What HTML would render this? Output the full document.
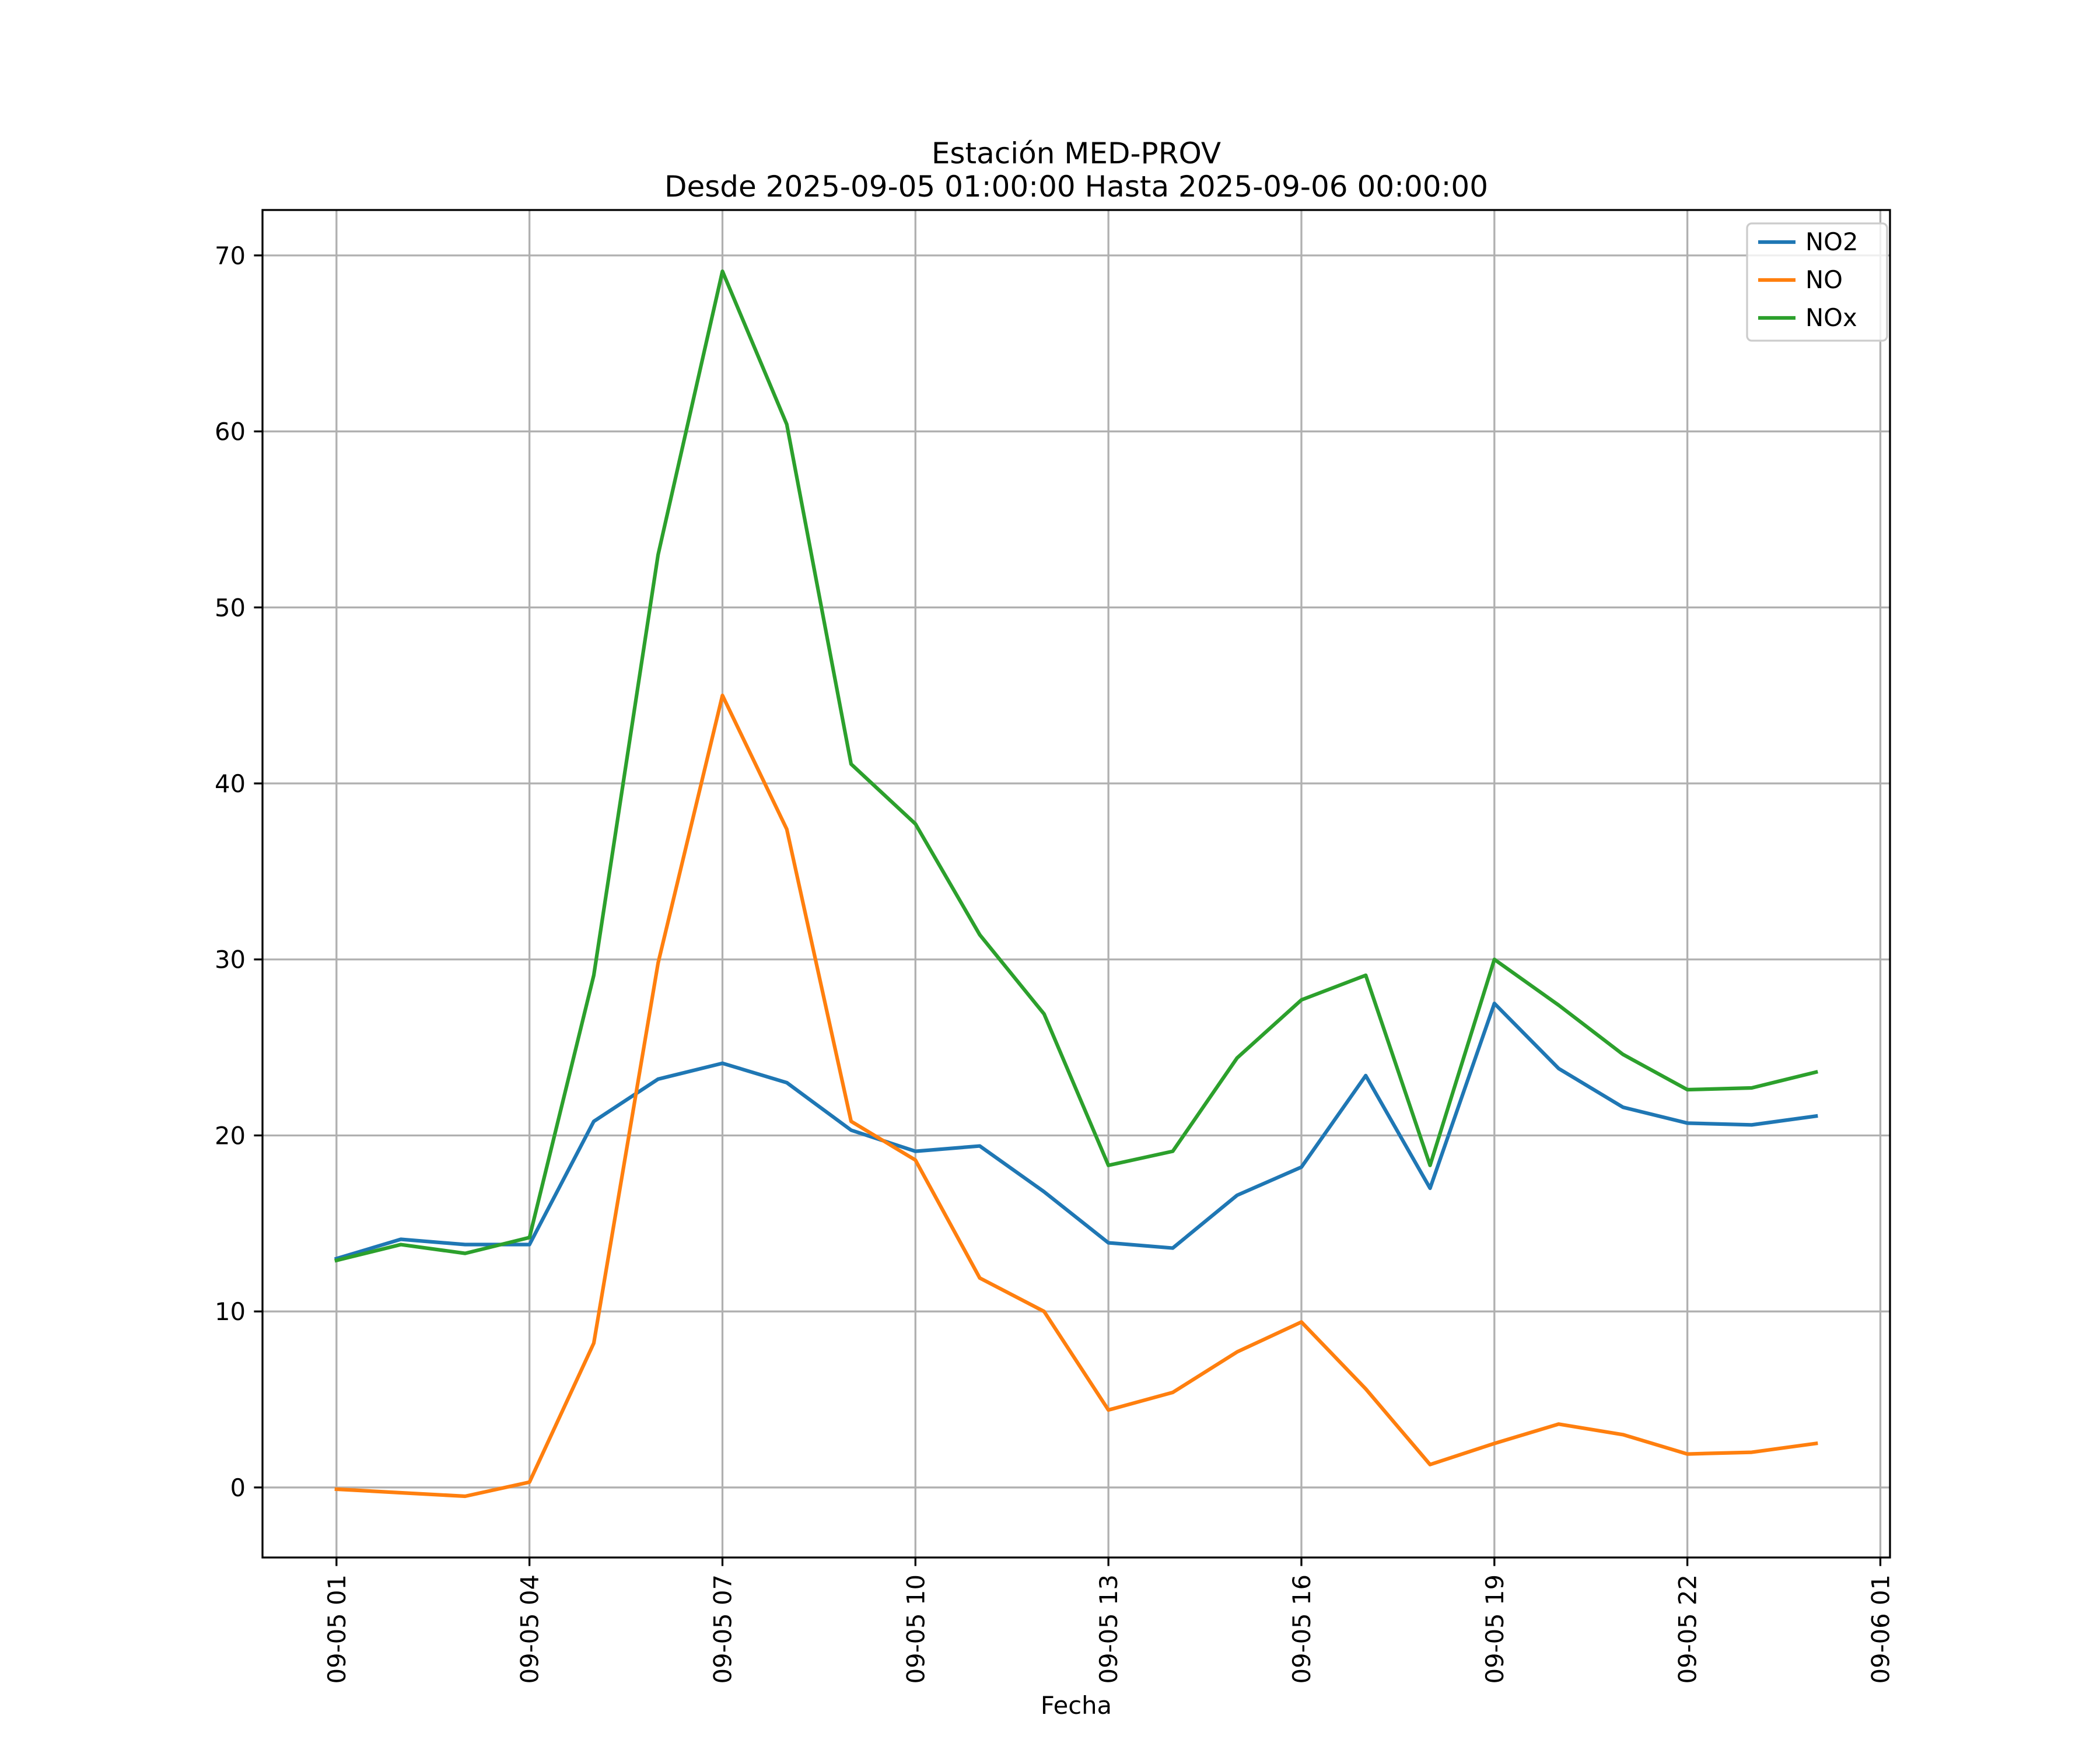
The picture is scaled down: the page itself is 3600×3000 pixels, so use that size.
<!DOCTYPE html>
<html><head><meta charset="utf-8"><style>
html,body{margin:0;padding:0;background:#fff;}
svg{display:block;font-family:"DejaVu Sans","Liberation Sans",sans-serif;}
</style></head><body>
<svg id="chart" width="3600" height="3000" xmlns="http://www.w3.org/2000/svg">
<rect width="3600" height="3000" fill="#fff"/>
<text x="1845" y="280" text-anchor="middle" font-size="50">Estación MED-PROV</text>
<text x="1845" y="337" text-anchor="middle" font-size="50">Desde 2025-09-05 01:00:00 Hasta 2025-09-06 00:00:00</text>
<g id="grid"></g>
<g id="series"></g>
<rect x="450" y="360" width="2790" height="2310" fill="none" stroke="#000" stroke-width="3.3"/>
<g id="ticks"></g>
<text x="1845" y="2938" text-anchor="middle" font-size="41.7">Fecha</text>
<g>
<rect x="2995" y="383" width="240" height="201" rx="8" fill="#fff" fill-opacity="0.8" stroke="#ccc" stroke-width="3.3"/>
<g id="legend"></g>
</g>
</svg>
<script>
const hours = [0,1,2,3,4,5,6,7,8,9,10,11,12,13,14,15,16,17,18,19,20,21,22,23];
const no2 = [13.0,14.1,13.8,13.8,20.8,23.2,24.1,23.0,20.3,19.1,19.4,16.8,13.9,13.6,16.6,18.2,23.4,17.0,27.5,23.8,21.6,20.7,20.6,21.1];
const no = [-0.1,-0.3,-0.5,0.3,8.2,29.8,45.0,37.4,20.8,18.6,11.9,10.0,4.4,5.4,7.7,9.4,5.6,1.3,2.5,3.6,3.0,1.9,2.0,2.5];
const nox = [12.9,13.8,13.3,14.2,29.1,53.0,69.1,60.4,41.1,37.7,31.4,26.9,18.3,19.1,24.4,27.7,29.1,18.3,30.0,27.4,24.6,22.6,22.7,23.6];
const xTickHours = [0,3,6,9,12,15,18,21,24];
const xTickLabels = ["09-05 01","09-05 04","09-05 07","09-05 10","09-05 13","09-05 16","09-05 19","09-05 22","09-06 01"];
const yTicks = [0,10,20,30,40,50,60,70];
const seriesNames = ["NO2","NO","NOx"];

const L=450,R=3240,T=360,B=2670;
const all=no2.concat(no,nox);
const ymin0=Math.min(...all), ymax0=Math.max(...all), yr=ymax0-ymin0;
const ymin=ymin0-0.05*yr, ymax=ymax0+0.05*yr;
const xmin0=Math.min(...hours), xmax0=Math.max(...hours), xr=xmax0-xmin0;
const xmin=xmin0-0.05*xr, xmax=xmax0+0.05*xr;
const X=h=>L+(h-xmin)/(xmax-xmin)*(R-L);
const Y=v=>B-(v-ymin)/(ymax-ymin)*(B-T);
const NS="http://www.w3.org/2000/svg";
function mk(tag,attrs,parent){const e=document.createElementNS(NS,tag);for(const k in attrs)e.setAttribute(k,attrs[k]);parent.appendChild(e);return e;}
const grid=document.getElementById('grid'),ticks=document.getElementById('ticks'),ser=document.getElementById('series'),leg=document.getElementById('legend');
xTickHours.forEach((h,i)=>{
  const x=X(h);
  const g=mk('line',{x1:x,x2:x,y1:T,y2:B,stroke:'#b0b0b0','stroke-width':3.3},grid);
  
  
  const t=mk('line',{x1:x,x2:x,y1:B,y2:B+14.6,stroke:'#000','stroke-width':3.3},ticks);
  
  
  const tx=mk('text',{x:0,y:0,'text-anchor':'end','font-size':41.7,transform:`translate(${x+15},${B+29}) rotate(-90)`},ticks);
  tx.textContent=xTickLabels[i];
  
  
});
yTicks.forEach(v=>{
  const y=Y(v);
  const g=mk('line',{x1:L,x2:R,y1:y,y2:y,stroke:'#b0b0b0','stroke-width':3.3},grid);
  
  
  const t=mk('line',{x1:L-14.6,x2:L,y1:y,y2:y,stroke:'#000','stroke-width':3.3},ticks);
  
  
  const tx=mk('text',{x:L-29,y:y+15,'text-anchor':'end','font-size':41.7},ticks);
  tx.textContent=String(v);
  
  
});
const colors=['#1f77b4','#ff7f0e','#2ca02c'];
[no2,no,nox].forEach((d,si)=>{
  const p=mk('polyline',{points:d.map((v,i)=>X(hours[i])+','+Y(v)).join(' '),fill:'none',stroke:colors[si],'stroke-width':6.25,'stroke-linejoin':'round','stroke-linecap':'square'},ser);
  
  
  const ly=415+si*65;
  const ll=mk('line',{x1:3014,x2:3078,y1:ly,y2:ly,stroke:colors[si],'stroke-width':6.25},leg);
  
  
  const lt=mk('text',{x:3095,y:ly+14,'font-size':41.7},leg);
  lt.textContent=seriesNames[si];
  
  
});
</script>
</body></html>
